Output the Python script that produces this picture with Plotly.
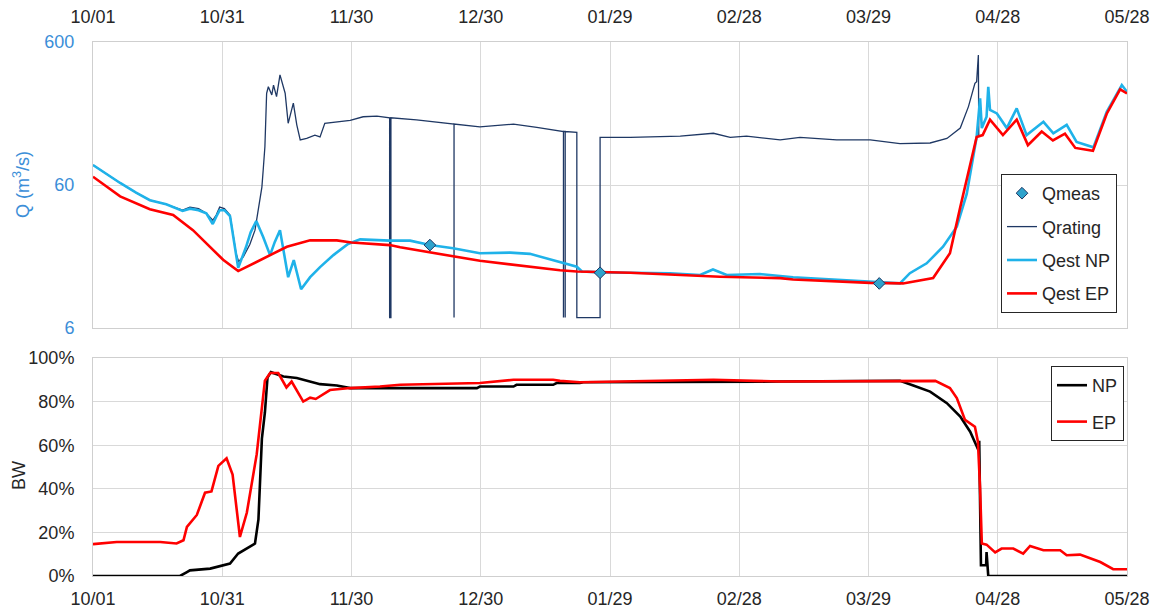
import math
import pandas as pd
import plotly.graph_objects as go

START = pd.Timestamp("2011-10-01")
END = pd.Timestamp("2012-05-28")

# ---------------- Top panel: discharge Q (m3/s), x = days since 10/01 ----------------
qmeas_day = [78.2, 117.7, 182.5]
qmeas_q = [22.8, 14.6, 12.3]

qrating_day = [0, 3, 6.3, 10, 13.2, 17, 20.8, 22.5, 24.5, 26.3, 27.8, 28.6, 29.4, 30.5, 31.8,
               33.2, 33.8, 34.9, 36.4, 37.6, 38.4, 39.2, 39.5, 39.9, 40.3, 40.7, 41.5, 41.9,
               42.6, 43.4, 44.6, 45.3, 46.5, 47.3, 48.1, 49.6, 51.5, 52.7, 53.8, 55.8, 59.7,
               62.7, 65.9, 68.85, 68.85, 69.15, 69.15, 75.1, 83.8, 83.8, 83.8, 89.8, 97.6, 103,
               108.4, 109.2, 109.2, 109.2, 109.6, 109.6, 109.6, 112.3, 112.3, 117.7, 117.7,
               124.7, 136.3, 144, 147.9, 151.7, 159.5, 164.1, 172.6, 180.4, 187.3, 194.3,
               198.2, 201.3, 203.2, 204.7, 205.1, 205.5, 205.6]
qrating_q = [82.8, 72, 62, 53, 47, 44, 40, 42, 41, 38, 34, 37, 42, 41, 37,
             20, 17.5, 18.9, 23, 29, 42, 58, 76, 111, 263, 292, 256, 300,
             249, 353, 263, 162, 224, 158, 124, 127, 134, 130, 162, 164, 170,
             180, 182, 177, 7.1, 7.1, 177, 171, 160, 7.1, 160, 153, 160, 152,
             144, 142, 7.1, 142, 142, 7.1, 142, 140, 7.1, 7.1, 129,
             129, 132, 138, 129, 132, 124, 129, 124, 124, 117, 118,
             127, 150, 212, 308, 317, 487, 133]

qnp_day = [0, 3, 6.3, 10, 13.2, 17, 20.8, 22.5, 24.5, 26.3, 27.8, 28.6, 29.4, 30.5, 31.8,
           33.7, 35.5, 36.6, 37.9, 39.5, 41.1, 42.2, 43.4, 45.3, 46.6, 48.3, 50.4, 52.7,
           55.8, 59.2, 62.0, 68.9, 73.6, 78.2, 83.6, 89.8, 96.8, 101.4, 105.3, 110.0,
           112.3, 113.5, 117.7, 124.7, 133.9, 140.9, 143.9, 147.1, 151.7, 154.8, 162.5,
           172.6, 180.4, 187.3, 189.6, 193.5, 197.3, 200.5, 202.8, 205.1, 205.9, 206.3,
           207.4, 207.8, 208.2, 209.8, 212.1, 214.4, 216.7, 220.6, 222.9, 226.0, 228.3,
           232.2, 235.3, 238.8, 240.0]
qnp_q = [82.8, 72, 62, 53, 47, 44, 39.5, 41, 40, 38, 32, 36, 40, 40, 36.4,
         15.8, 22, 28, 33.6, 26, 19.4, 24, 29, 13.6, 17.9, 11.2, 13.6, 16,
         19.4, 23.2, 25, 24.5, 24.5, 22.8, 21.7, 20, 20.2, 19.8, 18.4, 17,
         16.1, 14.9, 14.7, 14.6, 14.5, 14.1, 15.4, 14.1, 14.3, 14.3, 13.6,
         13.1, 12.6, 12.3, 14.5, 17, 22.2, 30.7, 52, 130, 242, 150,
         180, 292, 201, 190, 150, 206, 134, 166, 138, 158, 120,
         110, 195, 300, 269]

qep_day = [0, 6.3, 13.2, 18.6, 23.2, 30.2, 33.7, 40.3, 45.0, 50.4, 56.6, 60.0, 68.9, 71.3,
           83.6, 89.8, 108.4, 112.3, 124.7, 145.5, 159.5, 162.5, 180.4, 188.0, 195.0, 198.9,
           201.3, 205.1, 206.5, 208.2, 211.2, 214.4, 217.0, 220.2, 222.8, 225.6, 228.0,
           232.1, 235.3, 238.4, 240.0]
qep_q = [68.6, 50, 40.6, 37, 29, 18, 15, 18.9, 22.2, 24.6, 24.6, 23.8, 22.8, 22,
         19.1, 17.7, 15.2, 14.9, 14.6, 13.7, 13.4, 13.1, 12.4, 12.3, 13.4, 20,
         42, 130, 134, 172, 134, 172, 114, 142, 123, 137, 109,
         104, 189, 280, 262]

# ---------------- Bottom panel: BW (%) ----------------
bw_np_day = [0, 20.2, 21.8, 22.5, 27.2, 31.8, 33.7, 36.4, 37.6, 38.4, 39.2, 39.9, 40.5, 41.3,
             44.2, 47.3, 50.4, 52.7, 56.6, 59.7, 89.1, 89.8, 97.6, 98.3, 106.8, 107.6, 113.0,
             113.8, 159.5, 187.3, 190.4, 194.3, 198.2, 201.3, 203.6, 205.5, 205.7, 206.1,
             207.3, 207.4, 207.8, 240]
bw_np = [0, 0, 1.8, 2.6, 3.4, 5.7, 10.3, 13.3, 14.9, 26, 63, 75, 91, 93.5,
         91.5, 90.8, 89.2, 88, 87.4, 86.2, 86.2, 86.9, 86.9, 87.7, 87.7, 88.5, 88.5,
         88.9, 89.2, 89.5, 87.4, 84.6, 79.3, 73.1, 66.2, 57.8, 62, 4.9,
         4.9, 11, 0, 0]

bw_ep_day = [0, 5.5, 10.9, 15.6, 19.4, 21.0, 21.8, 24.1, 26.0, 27.5, 29.1, 31.0, 32.4, 34.1,
             35.7, 38.0, 39.9, 41.1, 43.0, 44.9, 46.1, 48.8, 50.4, 51.7, 55.0, 59.7, 66.6,
             71.3, 89.8, 97.6, 106.8, 108.4, 113.0, 144.0, 159.5, 182.7, 195.5, 198.9, 200.5,
             202.4, 204.7, 205.4, 205.9, 206.3, 207.4, 209.4, 210.9, 213.6, 215.9, 217.5,
             220.6, 224.5, 226.0, 229.1, 231.4, 233.8, 236.8, 240.0]
bw_ep = [14.6, 15.6, 15.6, 15.6, 14.9, 16.4, 22.5, 28, 38.2, 38.8, 50.5, 54, 46.5, 17.9,
         29, 55.9, 89.6, 93.1, 93.1, 86.5, 89.2, 80, 81.8, 81.2, 85.3, 86.2, 86.9,
         87.7, 88.5, 90, 90, 89.5, 88.9, 90, 89.2, 89.5, 89.5, 86.2, 81.6,
         71.6, 68.5, 61.6, 40.2, 14.9, 14.4, 10.8, 12.6, 12.6, 10.3, 13.8,
         11.8, 11.8, 9.5, 9.8, 8.0, 6.4, 3.1, 3.1]

q_tickvals = [6, 60, 600]
bw_tickvals = [0, 20, 40, 60, 80, 100]
bw_ticktext = ["0%", "20%", "40%", "60%", "80%", "100%"]


def to_dates(days):
    return START + pd.to_timedelta(days, unit="D")


NAVY = "#1F3864"
LBLUE = "#1FB2E9"
RED = "#FF0000"
BLUE_TXT = "#3B8ED8"
GRID = "#d9d9d9"
TXT = "#262626"
FONT = "Liberation Sans, Arial, sans-serif"

fig = go.Figure()

# top panel traces (x2, y2)
fig.add_trace(go.Scatter(x=to_dates(qrating_day), y=qrating_q, name="Qrating", mode="lines",
                         line=dict(color=NAVY, width=1.3), xaxis="x2", yaxis="y2",
                         legend="legend", legendgroup="g2", legendrank=2))
fig.add_trace(go.Scatter(x=to_dates(qnp_day), y=qnp_q, name="Qest NP", mode="lines",
                         line=dict(color=LBLUE, width=2.6), xaxis="x2", yaxis="y2",
                         legend="legend", legendgroup="g3", legendrank=3))
fig.add_trace(go.Scatter(x=to_dates(qep_day), y=qep_q, name="Qest EP", mode="lines",
                         line=dict(color=RED, width=2.6), xaxis="x2", yaxis="y2",
                         legend="legend", legendgroup="g4", legendrank=4))
fig.add_trace(go.Scatter(x=to_dates(qmeas_day), y=qmeas_q, name="Qmeas", mode="markers",
                         marker=dict(symbol="diamond", size=9, color="#2FA3CC",
                                     line=dict(color="#1F3864", width=1)),
                         xaxis="x2", yaxis="y2",
                         legend="legend", legendgroup="g1", legendrank=1))

# bottom panel traces (x, y)
fig.add_trace(go.Scatter(x=to_dates(bw_np_day), y=bw_np, name="NP", mode="lines",
                         line=dict(color="#000000", width=2.6), xaxis="x", yaxis="y",
                         legend="legend2", legendgroup="b1"))
fig.add_trace(go.Scatter(x=to_dates(bw_ep_day), y=bw_ep, name="EP", mode="lines",
                         line=dict(color=RED, width=2.6), xaxis="x", yaxis="y",
                         legend="legend2", legendgroup="b2"))

# The page body has an 8 px margin, so the figure is drawn 8 px in from the window edge.
OFF = 8
W, H = 1158 - OFF, 609 - OFF
PL, PR, PT, PB = 93, 1127, 42, 576          # plot area in window pixels
L, T = PL - OFF, PT - OFF
R, B = W - (PR - OFF), H - (PB - OFF)
plot_w = PR - PL
plot_h = PB - PT
top_dom = [(PB - 328) / plot_h, 1.0]
bot_dom = [0.0, (PB - 358) / plot_h]


def px_x(x):
    return (x - PL) / plot_w


def px_y(y):
    return (PB - y) / plot_h


dtick_ms = 30 * 86400000
xcommon = dict(type="date", range=[START, END], tick0=START, dtick=dtick_ms,
               tickformat="%m/%d", showgrid=True, gridcolor=GRID, gridwidth=1,
               showline=True, linecolor="#cfcfcf", mirror=True, zeroline=False,
               ticks="outside", tickcolor="rgba(0,0,0,0)", automargin=False,
               tickfont=dict(family=FONT, size=18, color=TXT))

fig.update_layout(
    width=W, height=H,
    margin=dict(l=L, r=R, t=T, b=B, autoexpand=False),
    plot_bgcolor="white", paper_bgcolor="white",
    font=dict(family=FONT, size=18, color=TXT),
    showlegend=True,
    xaxis=dict(**xcommon, domain=[0, 1], anchor="y", ticklen=6),
    xaxis2=dict(**xcommon, domain=[0, 1], anchor="y2", side="top", matches="x", ticklen=11),
    yaxis=dict(domain=bot_dom, anchor="x", range=[0, 100], tickvals=bw_tickvals,
               ticktext=bw_ticktext, showgrid=True, gridcolor=GRID, showline=True,
               linecolor="#cfcfcf", mirror=True, zeroline=False, automargin=False,
               ticks="outside", ticklen=14, tickcolor="rgba(0,0,0,0)",
               tickfont=dict(family=FONT, size=18, color=TXT)),
    yaxis2=dict(domain=top_dom, anchor="x2", type="log",
                range=[math.log10(6), math.log10(600)], tickvals=q_tickvals,
                ticktext=[str(v) for v in q_tickvals],
                showgrid=True, gridcolor=GRID, showline=True, linecolor="#cfcfcf",
                mirror=True, zeroline=False, automargin=False,
                ticks="outside", ticklen=14, tickcolor="rgba(0,0,0,0)",
                tickfont=dict(family=FONT, size=18, color=BLUE_TXT)),
    legend=dict(x=px_x(1001), y=px_y(174),
                xanchor="left", yanchor="top", bgcolor="white",
                bordercolor=TXT, borderwidth=1, tracegroupgap=7,
                font=dict(family=FONT, size=18, color=TXT)),
    legend2=dict(x=px_x(1051), y=px_y(366),
                 xanchor="left", yanchor="top", bgcolor="white",
                 bordercolor=TXT, borderwidth=1, tracegroupgap=10,
                 font=dict(family=FONT, size=18, color=TXT)),
    annotations=[
        dict(text="Q (m<sup>3</sup>/s)", xref="paper", yref="paper",
             x=px_x(21), y=px_y(185),
             xanchor="center", yanchor="middle", textangle=-90, showarrow=False,
             font=dict(family=FONT, size=18, color=BLUE_TXT)),
        dict(text="BW", xref="paper", yref="paper",
             x=px_x(19), y=px_y(476),
             xanchor="center", yanchor="middle", textangle=-90, showarrow=False,
             font=dict(family=FONT, size=18, color=TXT)),
    ],
)

fig.write_html("out.html")
